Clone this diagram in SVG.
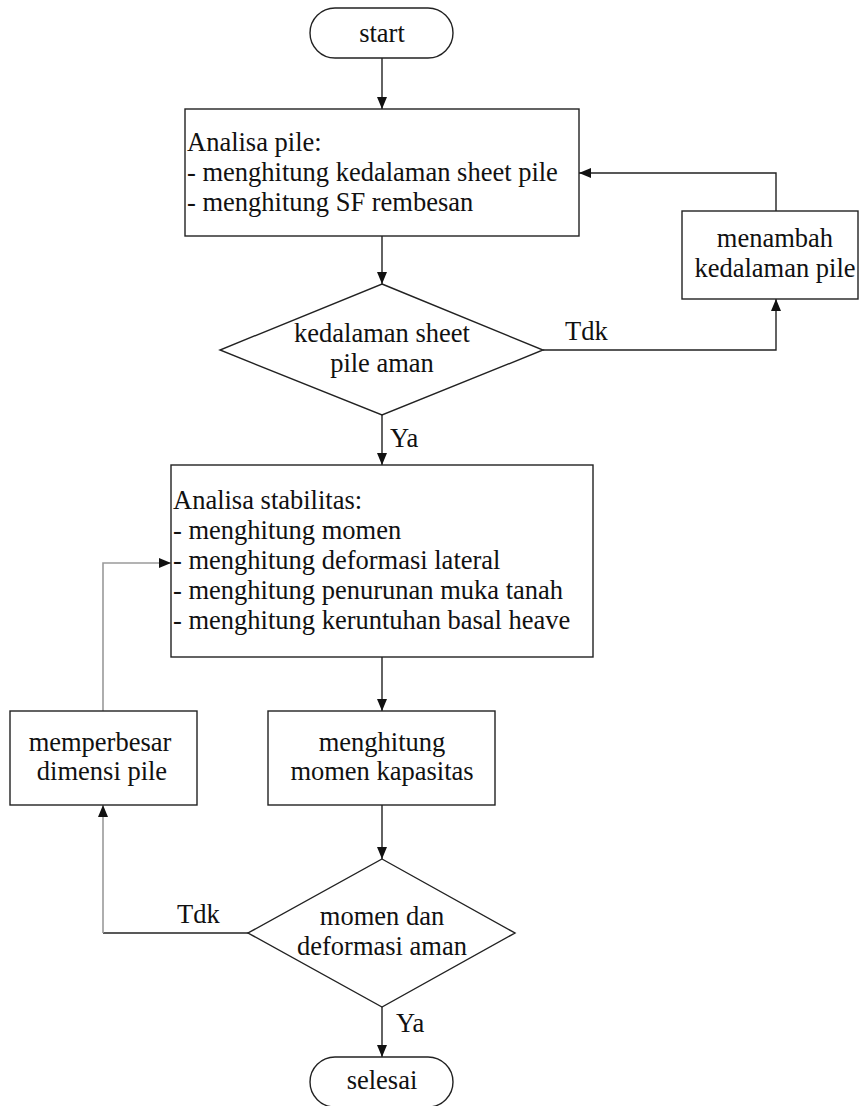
<svg xmlns="http://www.w3.org/2000/svg" width="859" height="1106" viewBox="0 0 859 1106">
<style>
.shape{fill:#fff;stroke:#222;stroke-width:1.4}
.t{font-family:"Liberation Serif","Times New Roman",serif;font-size:26.5px;fill:#111}
.c{text-anchor:middle}
.ln{fill:none;stroke:#222;stroke-width:1.4}
.gl{fill:none;stroke:#9a9a9a;stroke-width:1.6}
</style>
<defs>
<marker id="ah" markerUnits="userSpaceOnUse" markerWidth="12" markerHeight="10" refX="12" refY="5" orient="auto">
<path d="M0,0 L12,5 L0,10 z" fill="#111"/>
</marker>
</defs>
<rect width="859" height="1106" fill="#fff"/>
<g id="connectors">
<path class="ln" d="M382,58 V109" marker-end="url(#ah)"/>
<path class="ln" d="M382,236 V284" marker-end="url(#ah)"/>
<path class="ln" d="M382,415 V465" marker-end="url(#ah)"/>
<path class="ln" d="M543,350 H776 V299" marker-end="url(#ah)"/>
<path class="ln" d="M776,211 V173 H579" marker-end="url(#ah)"/>
<path class="ln" d="M382,657 V711" marker-end="url(#ah)"/>
<path class="ln" d="M382,805 V859" marker-end="url(#ah)"/>
<path class="ln" d="M382,1007 V1057" marker-end="url(#ah)"/>
<path class="ln" d="M248,933 H103"/>
<path class="gl" d="M103,933 V805" marker-end="url(#ah)"/>
<path class="gl" d="M103,711 V563 H171" marker-end="url(#ah)"/>
<text class="t" x="565" y="340">Tdk</text>
<text class="t" x="390" y="447">Ya</text>
<text class="t" x="177" y="923">Tdk</text>
<text class="t" x="396" y="1032">Ya</text>
</g>
<g id="start">
<rect class="shape" x="310" y="8" width="143" height="50" rx="25" ry="25"/>
<text class="t c" x="382" y="42">start</text>
</g>
<g id="analisa-pile">
<rect class="shape" x="185" y="109" width="394" height="127"/>
<text class="t" x="187" y="151">Analisa pile:</text>
<text class="t" x="187" y="181">- menghitung kedalaman sheet pile</text>
<text class="t" x="187" y="211">- menghitung SF rembesan</text>
</g>
<g id="menambah">
<rect class="shape" x="682" y="211" width="176" height="88"/>
<text class="t c" x="775" y="247">menambah</text>
<text class="t c" x="775" y="277">kedalaman pile</text>
</g>
<g id="cek-kedalaman">
<path class="shape" d="M382,284 L543,350 L382,415 L220,350 Z"/>
<text class="t c" x="382" y="342">kedalaman sheet</text>
<text class="t c" x="382" y="372">pile aman</text>
</g>
<g id="analisa-stabilitas">
<rect class="shape" x="171" y="465" width="422" height="192"/>
<text class="t" x="173" y="509">Analisa stabilitas:</text>
<text class="t" x="173" y="539">- menghitung momen</text>
<text class="t" x="173" y="569">- menghitung deformasi lateral</text>
<text class="t" x="173" y="599">- menghitung penurunan muka tanah</text>
<text class="t" x="173" y="629">- menghitung keruntuhan basal heave</text>
</g>
<g id="memperbesar">
<rect class="shape" x="10" y="711" width="187" height="94"/>
<text class="t c" x="100" y="751">memperbesar</text>
<text class="t c" x="102" y="780">dimensi pile</text>
</g>
<g id="momen-kapasitas">
<rect class="shape" x="268" y="711" width="227" height="94"/>
<text class="t c" x="382" y="751">menghitung</text>
<text class="t c" x="382" y="780">momen kapasitas</text>
</g>
<g id="cek-momen">
<path class="shape" d="M382,859 L515,933 L382,1007 L248,933 Z"/>
<text class="t c" x="382" y="925">momen dan</text>
<text class="t c" x="382" y="955">deformasi aman</text>
</g>
<g id="selesai">
<rect class="shape" x="310" y="1057" width="143" height="50" rx="25" ry="25"/>
<text class="t c" x="382" y="1089">selesai</text>
</g>
</svg>
